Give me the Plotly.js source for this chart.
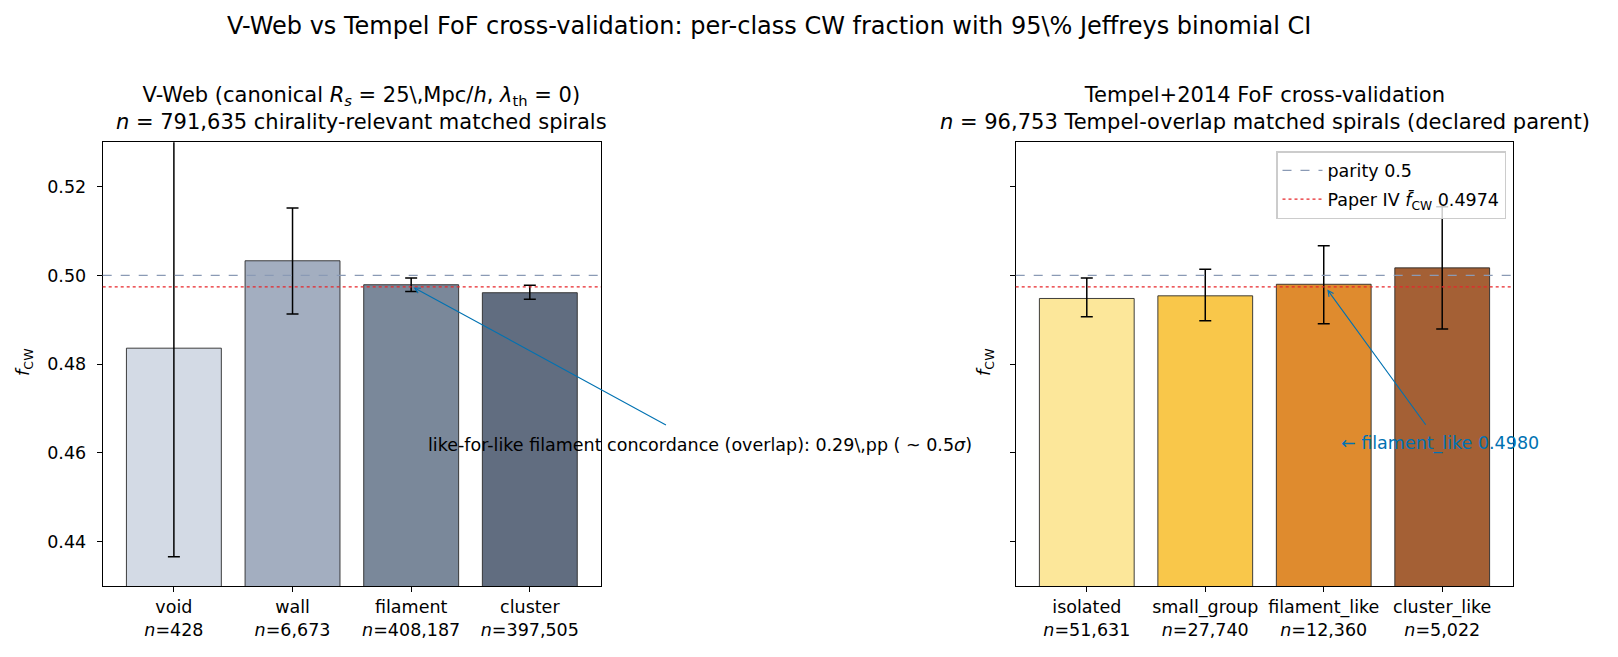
<!DOCTYPE html>
<html><head><meta charset="utf-8">
<script src="https://cdn.plot.ly/plotly-3.0.1.min.js"></script>
<style>html,body{margin:0;padding:0;background:#fff}</style>
</head><body>
<div id="chart" style="width:1618px;height:657px"></div>
<script>
const vwebClasses = ['void', 'wall', 'filament', 'cluster'];
const vwebCounts = ['428', '6,673', '408,187', '397,505'];
const vwebF = [0.4836, 0.5033, 0.4979, 0.4961];
const vwebLo = [0.4366, 0.4913, 0.4964, 0.4946];
const vwebHi = [0.5310, 0.5152, 0.4994, 0.4978];
const vwebColors = ['#d3dae5', '#a3aec0', '#7a889a', '#616d80'];

const tempelClasses = ['isolated', 'small_group', 'filament_like', 'cluster_like'];
const tempelCounts = ['51,631', '27,740', '12,360', '5,022'];
const tempelF = [0.4948, 0.4954, 0.4980, 0.5017];
const tempelLo = [0.4907, 0.4898, 0.4891, 0.4879];
const tempelHi = [0.4994, 0.5014, 0.5067, 0.5155];
const tempelColors = ['#fce79a', '#f9c74a', '#df8b2e', '#a46035'];

const parity = 0.5;
const paperIV = 0.4974;
const yTicks = [0.44, 0.46, 0.48, 0.50, 0.52];

const FONT = 'DejaVu Sans, Liberation Sans, sans-serif';
const W = 1618, H = 657;
const px = v => v / W;
const py = v => 1 - v / H;
const PARITY_COLOR = '#8a9ab5';
const PAPER_COLOR = '#e8262a';

function barTrace(cats, vals, lo, hi, colors, xa, ya) {
  return {
    type: 'bar', x: cats, y: vals, xaxis: xa, yaxis: ya, width: 0.8,
    marker: {color: colors, line: {color: '#2a2a2a', width: 0.9}},
    error_y: {type: 'data', symmetric: false,
      array: hi.map((h, i) => h - vals[i]),
      arrayminus: lo.map((l, i) => vals[i] - l),
      color: '#000', thickness: 1.5, width: 6},
    showlegend: false, hoverinfo: 'x+y'
  };
}

const traces = [
  barTrace(vwebClasses, vwebF, vwebLo, vwebHi, vwebColors, 'x', 'y'),
  barTrace(tempelClasses, tempelF, tempelLo, tempelHi, tempelColors, 'x2', 'y2'),
  {type: 'scatter', mode: 'lines', x: [null], y: [null], xaxis: 'x2', yaxis: 'y2', legendgroup: 'a',
   name: 'parity ' + parity, line: {color: PARITY_COLOR, dash: 'dash', width: 1.2}},
  {type: 'scatter', mode: 'lines', x: [null], y: [null], xaxis: 'x2', yaxis: 'y2', legendgroup: 'b',
   name: 'Paper IV <i>f&#772;</i><sub>CW</sub> ' + paperIV.toFixed(4), line: {color: PAPER_COLOR, dash: 'dot', width: 1.2}}
];

function hline(xa, ya, y, color, dash) {
  return {type: 'line', xref: xa + ' domain', yref: ya, x0: 0, x1: 1, y0: y, y1: y,
    line: {color: color, dash: dash, width: 1.2}, layer: 'above'};
}

const axCommon = {
  showgrid: false, zeroline: false, showline: true, mirror: true,
  linecolor: '#000', linewidth: 1, ticks: 'outside', ticklen: 5, tickwidth: 1,
  tickcolor: '#000', tickfont: {family: FONT, size: 17.5, color: '#000'}
};

const xTick = (cats, counts) => cats.map((c, i) => c + '<br><i>n</i>=' + counts[i]);

const layout = {
  width: W, height: H,
  margin: {l: 0, r: 0, t: 0, b: 0, autoexpand: false},
  paper_bgcolor: '#fff', plot_bgcolor: '#fff',
  font: {family: FONT, color: '#000'},
  xaxis: Object.assign({}, axCommon, {domain: [px(102.7), px(601)], range: [-0.6, 3.6], type: 'category',
    tickvals: vwebClasses, ticktext: xTick(vwebClasses, vwebCounts)}),
  yaxis: Object.assign({}, axCommon, {domain: [py(586), py(142.3)], range: [0.43, 0.53],
    tickvals: yTicks, tickformat: '.2f', ticklabelstandoff: 7}),
  xaxis2: Object.assign({}, axCommon, {domain: [px(1015.7), px(1513.3)], range: [-0.6, 3.6], type: 'category',
    anchor: 'y2', tickvals: tempelClasses, ticktext: xTick(tempelClasses, tempelCounts)}),
  yaxis2: Object.assign({}, axCommon, {domain: [py(586), py(142.3)], range: [0.43, 0.53], anchor: 'x2',
    tickvals: yTicks, showticklabels: false}),
  bargap: 0.2,
  showlegend: true,
  legend: {x: px(1506), y: py(151), xanchor: 'right', yanchor: 'top',
    bgcolor: 'rgba(255,255,255,0.8)', bordercolor: '#cccccc', borderwidth: 1.5,
    font: {family: FONT, size: 17.5}, tracegroupgap: 3, itemwidth: 40},
  shapes: [
    hline('x', 'y', parity, PARITY_COLOR, 'dash'),
    hline('x', 'y', paperIV, PAPER_COLOR, 'dot'),
    hline('x2', 'y2', parity, PARITY_COLOR, 'dash'),
    hline('x2', 'y2', paperIV, PAPER_COLOR, 'dot')
  ],
  annotations: [
    {xref: 'paper', yref: 'paper', x: px(769), y: py(26), showarrow: false,
     text: 'V-Web vs Tempel FoF cross-validation: per-class CW fraction with 95\\% Jeffreys binomial CI',
     font: {family: FONT, size: 24}, xanchor: 'center', yanchor: 'middle'},
    {xref: 'paper', yref: 'paper', x: px(361), y: py(136), showarrow: false, xanchor: 'center', yanchor: 'bottom',
     text: 'V-Web (canonical <i>R<sub>s</sub></i> = 25\\,Mpc/<i>h</i>, <i>λ</i><sub>th</sub> = 0)<br><i>n</i> = 791,635 chirality-relevant matched spirals',
     font: {family: FONT, size: 21}},
    {xref: 'paper', yref: 'paper', x: px(1264.5), y: py(136), showarrow: false, xanchor: 'center', yanchor: 'bottom',
     text: 'Tempel+2014 FoF cross-validation<br><i>n</i> = 96,753 Tempel-overlap matched spirals (declared parent)',
     font: {family: FONT, size: 21}},
    {xref: 'paper', yref: 'paper', x: px(10), y: py(362), showarrow: false, textangle: -90,
     text: '<i>f</i><sub>CW</sub>', font: {family: FONT, size: 18}},
    {xref: 'paper', yref: 'paper', x: px(985), y: py(362), showarrow: false, textangle: -90,
     text: '<i>f</i><sub>CW</sub>', font: {family: FONT, size: 18}},
    {xref: 'paper', yref: 'paper', x: px(700), y: py(445), showarrow: false, xanchor: 'center', yanchor: 'middle',
     text: 'like-for-like filament concordance (overlap): 0.29\\,pp ( ~ 0.5<i>σ</i>)',
     font: {family: FONT, size: 17.5, color: '#000'}},
    {xref: 'x', yref: 'y', axref: 'x', ayref: 'y', x: 2.02, y: 0.4973, ax: 4.16, ay: 0.4661,
     text: '', showarrow: true, arrowhead: 5, arrowsize: 1, arrowwidth: 1.1, arrowcolor: '#0072B2'},
    {xref: 'x2', yref: 'y2', x: 2.98, y: 0.4621, showarrow: false, xanchor: 'center', yanchor: 'middle',
     text: '← filament_like ' + tempelF[2].toFixed(4), font: {family: FONT, size: 17.5, color: '#0072B2'}},
    {xref: 'x2', yref: 'y2', axref: 'x2', ayref: 'y2', x: 2.03, y: 0.4968, ax: 2.87, ay: 0.466,
     text: '', showarrow: true, arrowhead: 5, arrowsize: 1, arrowwidth: 1.1, arrowcolor: '#0072B2'}
  ]
};

Plotly.newPlot('chart', traces, layout, {displayModeBar: false, staticPlot: true});
</script>
</body></html>
